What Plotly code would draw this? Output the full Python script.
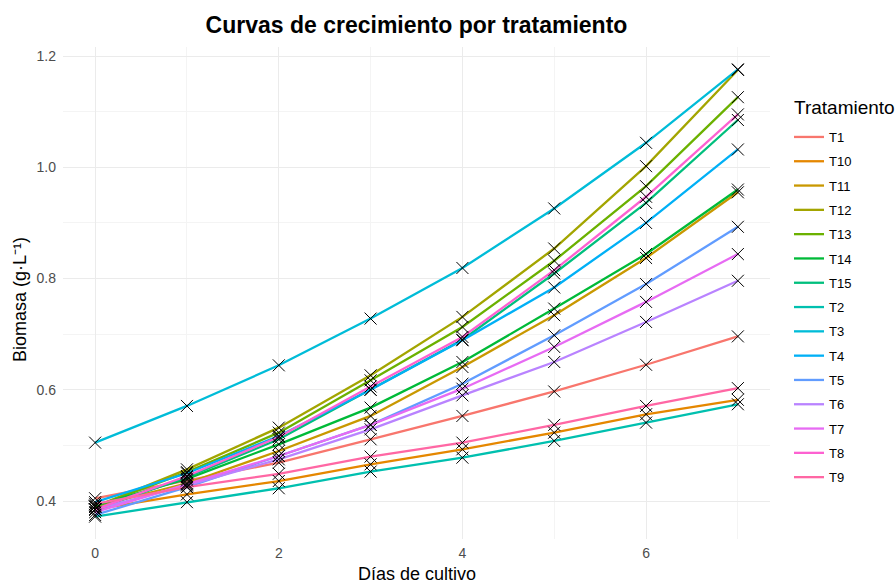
import plotly.graph_objects as go

# Días de muestreo
dias = [0, 1, 2, 3, 4, 5, 6, 7]

# Orden de los niveles del factor (orden alfabético)
tratamientos = ["T1", "T10", "T11", "T12", "T13", "T14", "T15",
                "T2", "T3", "T4", "T5", "T6", "T7", "T8", "T9"]

# Biomasa media por tratamiento (g/L)
T1 = [0.405, 0.437, 0.469, 0.511, 0.553, 0.597, 0.645, 0.696]
T2 = [0.372, 0.398, 0.423, 0.453, 0.478, 0.508, 0.541, 0.574]
T3 = [0.505, 0.571, 0.644, 0.728, 0.819, 0.926, 1.044, 1.176]
T4 = [0.398, 0.450, 0.517, 0.600, 0.689, 0.784, 0.900, 1.032]
T5 = [0.375, 0.425, 0.481, 0.537, 0.611, 0.698, 0.790, 0.893]
T6 = [0.385, 0.428, 0.475, 0.529, 0.590, 0.650, 0.722, 0.796]
T7 = [0.380, 0.430, 0.481, 0.537, 0.602, 0.677, 0.758, 0.844]
T8 = [0.385, 0.445, 0.515, 0.606, 0.695, 0.815, 0.947, 1.095]
T9 = [0.395, 0.425, 0.449, 0.480, 0.505, 0.537, 0.571, 0.603]
T10 = [0.385, 0.412, 0.436, 0.466, 0.493, 0.523, 0.556, 0.582]
T11 = [0.390, 0.432, 0.490, 0.553, 0.641, 0.734, 0.837, 0.955]
T12 = [0.390, 0.457, 0.532, 0.626, 0.731, 0.854, 1.002, 1.175]
T13 = [0.390, 0.452, 0.523, 0.617, 0.713, 0.832, 0.966, 1.126]
T14 = [0.392, 0.440, 0.502, 0.568, 0.650, 0.746, 0.844, 0.960]
T15 = [0.385, 0.443, 0.511, 0.600, 0.690, 0.809, 0.936, 1.085]

biomasa = {
    "T1": T1, "T2": T2, "T3": T3, "T4": T4, "T5": T5, "T6": T6, "T7": T7,
    "T8": T8, "T9": T9, "T10": T10, "T11": T11, "T12": T12, "T13": T13,
    "T14": T14, "T15": T15,
}

# Paleta de tonos equiespaciados (15 niveles)
colores = ["#F8766D", "#E58700", "#C99800", "#A3A500", "#6BB100",
           "#00BA38", "#00BF7D", "#00C0AF", "#00BCD8", "#00B0F6",
           "#619CFF", "#B983FF", "#E76BF3", "#FD61D1", "#FF67A4"]

FUENTE = "Liberation Sans, Arial, sans-serif"

fig = go.Figure()

for trat, color in zip(tratamientos, colores):
    fig.add_trace(go.Scatter(
        x=dias, y=biomasa[trat], mode="lines", name=trat,
        legendgroup=trat,
        line=dict(color=color, width=2.3),
        hoverinfo="skip",
    ))

# Observaciones (cruces negras) encima de las curvas
for trat in tratamientos:
    fig.add_trace(go.Scatter(
        x=dias, y=biomasa[trat], mode="markers", showlegend=False,
        legendgroup=trat,
        marker=dict(symbol="x-thin-open", size=12, color="black",
                    line=dict(color="black", width=1)),
    ))

# Rango con un 5 % de expansión a cada lado
todos = [v for t in tratamientos for v in biomasa[t]]
ymin, ymax = min(todos), max(todos)
ypad = (ymax - ymin) * 0.05
xpad = (max(dias) - min(dias)) * 0.05

fig.update_layout(
    width=896, height=584,
    margin=dict(l=63, r=126, t=47, b=45),
    paper_bgcolor="white", plot_bgcolor="white",
    font=dict(family=FUENTE, color="black"),
    title=dict(text="<b>Curvas de crecimiento por tratamiento</b>",
               x=0.5, xref="paper", xanchor="center",
               y=1 - 25 / 584, yref="container", yanchor="middle",
               font=dict(size=23, color="black")),
    legend=dict(
        x=789 / 896, xref="container", xanchor="left",
        y=1 - 122 / 584, yref="container", yanchor="top",
        font=dict(size=13, color="black"),
        tracegroupgap=4.4, itemwidth=30, maxheight=460,
        bgcolor="rgba(0,0,0,0)",
    ),
    showlegend=True,
    annotations=[
        dict(text="Tratamiento", xref="paper", yref="paper",
             x=(792 - 63) / 707, xanchor="left",
             y=(539 - 107) / 492, yanchor="middle",
             showarrow=False, font=dict(size=19, color="black")),
        dict(text="Días de cultivo", xref="paper", yref="paper",
             x=0.5, xanchor="center", y=-(574 - 539) / 492,
             yanchor="middle", showarrow=False,
             font=dict(size=18, color="black")),
        dict(text="Biomasa (g·L⁻¹)", xref="paper", yref="paper",
             x=-(63 - 20) / 707, xanchor="center", y=0.5 - (300 - 293) / 492,
             yanchor="middle", textangle=-90, showarrow=False,
             font=dict(size=18, color="black")),
    ],
)

fig.update_xaxes(
    range=[min(dias) - xpad, max(dias) + xpad],
    tickvals=[0, 2, 4, 6], ticktext=["0", "2", "4", "6"],
    showgrid=True, gridcolor="#EBEBEB", gridwidth=1.1,
    minor=dict(tickvals=[1, 3, 5, 7], showgrid=True,
               gridcolor="#F4F4F4", gridwidth=0.8),
    zeroline=False, showline=False, ticks="",
    tickfont=dict(size=14, color="#4D4D4D"),
    ticklabelstandoff=4,
)

fig.update_yaxes(
    range=[ymin - ypad, ymax + ypad],
    tickvals=[0.4, 0.6, 0.8, 1.0, 1.2],
    ticktext=["0.4", "0.6", "0.8", "1.0", "1.2"],
    showgrid=True, gridcolor="#EBEBEB", gridwidth=1.1,
    minor=dict(tickvals=[0.5, 0.7, 0.9, 1.1], showgrid=True,
               gridcolor="#F4F4F4", gridwidth=0.8),
    zeroline=False, showline=False, ticks="",
    tickfont=dict(size=14, color="#4D4D4D"),
    ticklabelstandoff=6,
)

fig.write_html("out.html")
